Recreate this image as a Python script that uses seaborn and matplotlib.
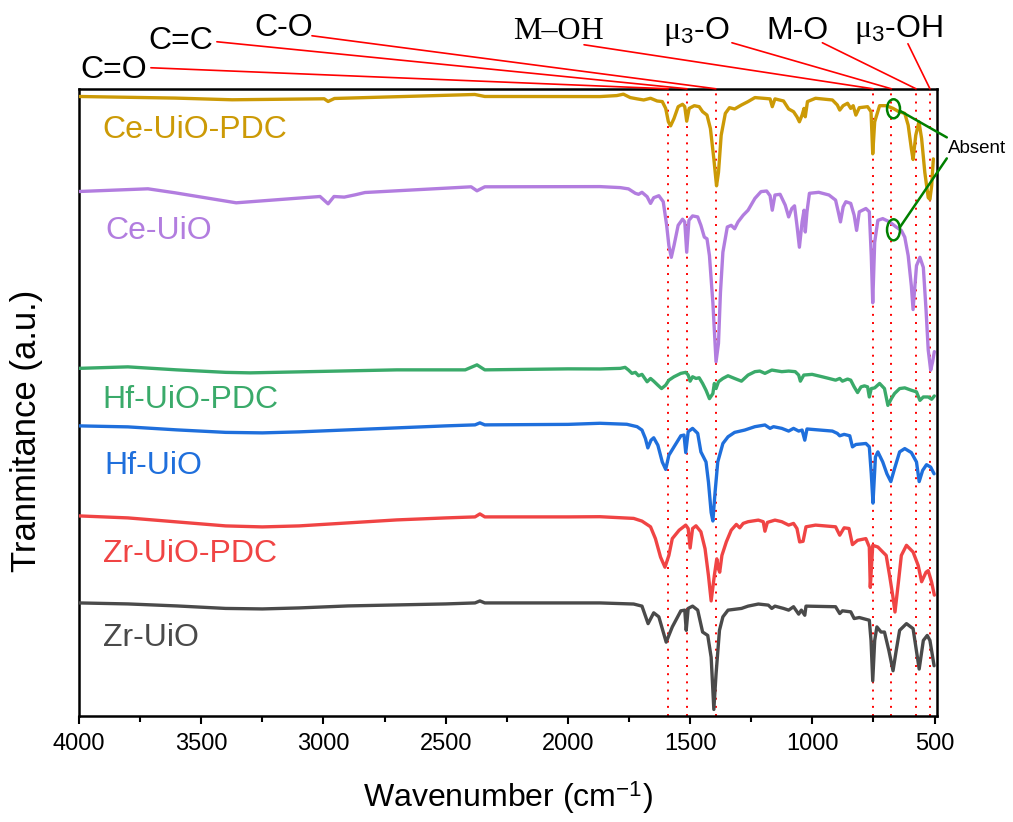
import matplotlib
matplotlib.use("Agg")
import matplotlib.pyplot as plt
from matplotlib.patches import Ellipse
from matplotlib.ticker import MultipleLocator
import pandas as pd
import seaborn as sns

# ---- stacked FTIR spectra: wavenumber (cm-1) and offset transmittance (a.u.) ----
zr_uio_wn = [4000, 3800, 3600, 3400, 3250, 3100, 2900, 2700, 2500, 2380, 2360, 2340, 2000, 1869,
             1731, 1697, 1672, 1649, 1628, 1598, 1573, 1538, 1522, 1516, 1508, 1490, 1469, 1449,
             1428, 1414, 1403, 1394, 1380, 1366, 1345, 1290, 1263, 1221, 1180, 1166, 1153, 1118,
             1097, 1077, 1056, 1045, 1031, 1026, 905, 888, 877, 843, 829, 808, 767, 760, 753, 745,
             736, 719, 705, 687, 670, 657, 643, 615, 588, 563, 546, 530, 519, 502]
zr_uio_t = [113, 112, 110, 107.5, 107, 108, 110, 111, 112, 113, 115, 113, 113, 113,
            111.9, 109.8, 92.3, 103.1, 99.1, 73.8, 89, 105.1, 105.8, 85.6, 107.5, 109.8, 105.8, 83.9,
            80.5, 58.7, 6.5, 41.8, 85.6, 99.1, 105.8, 107.5, 109.8, 111.9, 110.8, 107.5, 109.8, 107.5,
            105.8, 109.2, 101.8, 105.8, 100.7, 109.8, 109.2, 102.4, 105.1, 104.1, 97.4, 98.4, 95.7,
            75.5, 35.1, 75.5, 89, 83.9, 83.9, 65.4, 45.2, 65.4, 85.6, 92.3, 87.3, 46.9, 75.5, 80.5,
            75.5, 50.2]

zr_pdc_wn = [4000, 3800, 3600, 3400, 3250, 3100, 2900, 2700, 2500, 2380, 2360, 2340, 2000, 1869,
             1731, 1697, 1662, 1642, 1621, 1603, 1587, 1573, 1545, 1518, 1508, 1500, 1490, 1476,
             1456, 1439, 1425, 1414, 1401, 1391, 1384, 1379, 1370, 1352, 1332, 1311, 1297, 1283,
             1263, 1221, 1201, 1194, 1184, 1153, 1125, 1097, 1077, 1063, 1052, 1038, 1026, 987,
             905, 888, 870, 850, 836, 815, 781, 767, 763, 753, 732, 712, 698, 684, 670, 662, 648,
             636, 615, 588, 567, 553, 535, 526, 512, 501]
zr_pdc_t = [200, 198, 194, 190, 189, 190, 193, 196, 198, 199, 202, 199, 199, 199.2,
            197.5, 194.8, 189.1, 177.3, 158.8, 148.7, 160.5, 177.3, 185.7, 190.8, 187.4, 167.9,
            187.4, 190.1, 184.1, 167.2, 140.3, 115, 140.3, 157.1, 147, 143.7, 160.5, 174, 185.7,
            191.5, 188.1, 192.5, 194.2, 195.8, 194.2, 184.7, 193.5, 195.8, 194.2, 190.8, 192.5,
            187.4, 174, 174.6, 189.1, 190.8, 189.1, 180.7, 188.1, 187.4, 171.3, 175.6, 177.3,
            168.9, 128.5, 170.6, 168.9, 163.9, 160.5, 140.3, 118.4, 103.9, 133.6, 160.5, 170.6,
            163.9, 150.4, 134.2, 143.7, 145.3, 133.6, 120.8]

hf_uio_wn = [4000, 3800, 3600, 3400, 3250, 3100, 2900, 2700, 2500, 2380, 2360, 2340, 2000, 1869,
             1759, 1717, 1697, 1683, 1673, 1660, 1649, 1632, 1614, 1600, 1587, 1566, 1538, 1525,
             1518, 1508, 1490, 1469, 1456, 1435, 1425, 1414, 1407, 1398, 1387, 1366, 1345, 1318,
             1277, 1235, 1194, 1173, 1159, 1125, 1097, 1077, 1056, 1042, 1031, 1022, 918, 898, 888,
             870, 847, 836, 822, 781, 767, 759, 752, 742, 732, 712, 695, 679, 664, 643, 622, 595,
             574, 563, 549, 533, 516, 502]
hf_uio_t = [290, 289, 286, 283.5, 283, 284, 286, 288, 290, 291, 293, 291, 291.5, 292.6,
            291.6, 289.2, 285.8, 277.4, 268, 275.7, 278.1, 270.7, 253.9, 246.5, 260.6, 269, 280.1,
            280.8, 263.3, 284.2, 287.5, 282.5, 264, 253.9, 233.7, 203.4, 194.9, 223.6, 253.9,
            272.4, 279.1, 283.5, 285.8, 289.2, 290.9, 287.5, 289.2, 287.5, 284.8, 287.5, 284.8,
            285.8, 275.7, 286.9, 284.8, 282.5, 280.1, 281.5, 280.1, 269, 271.4, 272.4, 269, 242.1,
            212.8, 258.9, 264, 253.9, 242.1, 234.3, 247.1, 264, 267.3, 263.3, 253.9, 234.3, 245.4,
            251.2, 248.8, 242.1]

hf_pdc_wn = [4000, 3800, 3600, 3400, 3300, 3100, 2900, 2700, 2420, 2372, 2340, 2000, 1869, 1786,
             1766, 1752, 1738, 1724, 1711, 1697, 1676, 1662, 1649, 1632, 1617, 1600, 1587, 1566,
             1538, 1518, 1508, 1500, 1490, 1476, 1463, 1449, 1435, 1421, 1407, 1401, 1394, 1384,
             1366, 1345, 1318, 1290, 1263, 1235, 1215, 1194, 1166, 1125, 1097, 1070, 1056, 1049,
             1035, 1001, 960, 932, 905, 888, 877, 856, 843, 829, 815, 801, 787, 774, 767, 759, 745,
             725, 705, 691, 677, 664, 643, 622, 595, 574, 560, 546, 526, 512, 501]
hf_pdc_t = [347.5, 349, 346, 343.5, 343, 344, 345, 346, 346, 351, 346, 347, 346.9, 347.5,
            348.5, 345.8, 342.5, 343.5, 340.1, 341.5, 334.1, 337.4, 334.7, 330.7, 327.3, 330.7,
            335.7, 339.1, 342.5, 343.5, 340.8, 334.7, 339.1, 337.4, 338.1, 332.4, 325.6, 317.2,
            322.3, 332.4, 327.3, 334.1, 337.4, 340.1, 337.4, 334.7, 340.8, 344.2, 344.8, 342.5,
            345.8, 344.2, 344.8, 344.2, 340.8, 334.7, 340.8, 341.5, 339.1, 337.4, 335.7, 337.4,
            334.7, 336.8, 335.7, 329, 323.3, 329, 330, 329, 318.9, 327.3, 328, 332.4, 327.3, 310.5,
            317.2, 322.3, 327.3, 328, 325.6, 324, 315.5, 318.9, 318.9, 316.6, 319.9]

ce_uio_wn = [4000, 3718, 3607, 3357, 3014, 2981, 2957, 2915, 2870, 2830, 2396, 2372, 2340, 1869,
             1786, 1752, 1724, 1711, 1697, 1676, 1662, 1649, 1628, 1610, 1596, 1587, 1577, 1566,
             1549, 1531, 1522, 1514, 1505, 1490, 1469, 1456, 1442, 1431, 1421, 1407, 1394, 1384,
             1376, 1366, 1348, 1332, 1318, 1304, 1283, 1263, 1235, 1210, 1187, 1173, 1164, 1153,
             1132, 1111, 1097, 1084, 1073, 1063, 1053, 1042, 1034, 1029, 1022, 1012, 974, 932, 905,
             894, 885, 874, 863, 843, 829, 819, 808, 781, 767, 759, 753, 745, 732, 712, 684, 657,
             636, 622, 608, 595, 588, 574, 560, 546, 535, 526, 516, 508, 501]
ce_uio_t = [524.3, 527, 523, 513, 519.3, 512, 519.3, 518.7, 521, 523.3, 529, 525, 529, 529.2,
            528.2, 526.9, 522.5, 521.5, 523.5, 519.1, 512.4, 518.1, 520.1, 514.1, 490.5, 470.3,
            458.5, 470.3, 490.5, 496.6, 493.9, 463.6, 495.5, 499.9, 498.9, 490.5, 478.7, 477,
            460.2, 413.1, 354.1, 372.6, 423.2, 463.6, 488.8, 490.5, 487.1, 493.9, 500.6, 505.6,
            517.4, 524.2, 524.8, 520.1, 505.6, 520.8, 521.5, 510.7, 498.9, 507.3, 510, 490.5,
            468.6, 493.9, 505.6, 483.8, 504, 522.5, 523.5, 520.8, 515.7, 504, 493.9, 509, 514.1,
            512.4, 500.6, 485.4, 504, 507.3, 504, 460.2, 413.1, 473.7, 495.5, 497.2, 493.9, 488.8,
            485.4, 478.7, 460.2, 429.9, 406.3, 450.1, 458.5, 448.4, 406.3, 365.9, 345.7, 354.1,
            364.2]

ce_pdc_wn = [4000, 3607, 3374, 2997, 2981, 2955, 2381, 2340, 1869, 1800, 1773, 1745, 1717, 1690,
             1662, 1635, 1614, 1600, 1589, 1580, 1566, 1549, 1531, 1522, 1514, 1504, 1483, 1463,
             1449, 1431, 1417, 1403, 1392, 1384, 1373, 1356, 1339, 1318, 1290, 1263, 1235, 1201,
             1173, 1164, 1153, 1118, 1097, 1077, 1063, 1053, 1042, 1034, 1029, 1020, 987, 918, 898,
             888, 874, 856, 843, 833, 822, 808, 774, 760, 753, 745, 725, 698, 670, 646, 622, 608,
             595, 588, 577, 564, 553, 540, 526, 519, 512, 505]
ce_pdc_t = [619.3, 617.7, 616, 617, 614.3, 617.3, 621.3, 619.3, 619.2, 620.2, 621.6, 618.2, 616.9,
            615.8, 617.5, 614.8, 614.2, 607.4, 594, 589.9, 597.3, 609.1, 611.5, 609.1, 594.6,
            607.4, 610.1, 609.1, 604.1, 600.7, 587.2, 556.9, 530, 543.5, 580.5, 602.4, 608.1,
            606.8, 610.8, 614.2, 618.2, 617.5, 616.9, 609.1, 616.9, 614.8, 606.8, 604.1, 599, 594,
            600.7, 607.4, 599, 614.2, 617.5, 615.8, 610.8, 605.7, 610.1, 612.5, 607.4, 610.1,
            600.7, 608.1, 609.1, 604.1, 562, 594, 610.1, 610.1, 607.4, 604.1, 602.4, 590.6, 567,
            556.3, 580.5, 594, 577.1, 543.5, 518.2, 516.5, 530, 556.9]

samples = ["Zr-UiO", "Zr-UiO-PDC", "Hf-UiO", "Hf-UiO-PDC", "Ce-UiO", "Ce-UiO-PDC"]
sample_wn = [zr_uio_wn, zr_pdc_wn, hf_uio_wn, hf_pdc_wn, ce_uio_wn, ce_pdc_wn]
sample_t = [zr_uio_t, zr_pdc_t, hf_uio_t, hf_pdc_t, ce_uio_t, ce_pdc_t]
sample_colors = ["#4a4a4a", "#f04444", "#1f6fdc", "#3aaa6a", "#b27ddf", "#cc9a06"]

# band assignments marked by dotted guides
band_wn = [1590, 1513, 1395, 752, 677, 576, 519]
band_labels = ["C=O", "C=C", "C-O", "M\u2013OH",
               r"$\mathrm{\mu}_{\mathsf{3}}$-O", "M-O", r"$\mathrm{\mu}_{\mathsf{3}}$-OH"]

# ---- style ----
sns.set_style("ticks")
plt.rcParams["font.family"] = ["Liberation Sans", "DejaVu Sans"]
plt.rcParams["mathtext.fontset"] = "custom"
plt.rcParams["mathtext.rm"] = "Liberation Serif"
plt.rcParams["mathtext.it"] = "Liberation Serif:italic"
plt.rcParams["mathtext.sf"] = "Liberation Sans"
plt.rcParams["text.color"] = "black"
plt.rcParams["axes.labelcolor"] = "black"
plt.rcParams["xtick.color"] = "black"
plt.rcParams["ytick.color"] = "black"

frames = []
for name, wn, t in zip(samples, sample_wn, sample_t):
    frames.append(pd.DataFrame({"wavenumber": wn, "transmittance": t, "sample": name}))
df = pd.concat(frames, ignore_index=True)

fig = plt.figure(figsize=(10.13, 8.22), dpi=100)
ax = fig.add_axes([0.078, 0.129, 0.847, 0.763])

sns.lineplot(data=df, x="wavenumber", y="transmittance", hue="sample",
             hue_order=samples, palette=dict(zip(samples, sample_colors)),
             estimator=None, sort=False, legend=False, linewidth=2.4, ax=ax, zorder=3)

ax.set_xlim(4000, 490)
ax.set_ylim(0, 627)

# dotted band guides
for w in band_wn:
    ax.plot([w, w], [0, 627], color="red", linestyle=(0, (1, 3.2)), linewidth=1.4, zorder=2)

# band labels above the frame with leader lines
label_pos = [(3857, 638), (3583, 667), (3164, 680), (2039, 677), (1474, 677), (1059, 677), (650, 679)]
leader_start = [(3706, 648), (3436, 674), (3047, 680), (1934, 671), (1329, 673), (959, 673), (609, 672)]
for lab, w, (tx, ty), (sx, sy) in zip(band_labels, band_wn, label_pos, leader_start):
    fam = ["Liberation Serif"] if lab.startswith("M\u2013") else ["Liberation Sans", "DejaVu Sans"]
    ax.text(tx, ty, lab, ha="center", va="baseline", fontsize=23, family=fam, clip_on=False)
    ax.plot([sx, w], [sy, 627], color="red", linewidth=1.2, clip_on=False, zorder=4)

# sample names
name_pos = [(3903, 70), (3903, 154), (3897, 242), (3903, 308), (3894, 477), (3903, 578)]
for name, color, (x, y) in zip(samples, sample_colors, name_pos):
    ax.text(x, y, name, color=color, fontsize=23, ha="left", va="baseline")

# missing mu3-OH band on the Ce samples
for cy, h in [(607, 19), (486, 21)]:
    ax.add_patch(Ellipse((668, cy), width=53, height=h, fill=False,
                         edgecolor="green", linewidth=1.8, zorder=5, clip_on=False))
ax.plot([642, 450], [605, 578.4], color="green", linewidth=1.8, clip_on=False, zorder=5)
ax.plot([642, 450], [488.5, 557.4], color="green", linewidth=1.8, clip_on=False, zorder=5)
ax.text(447, 567, "Absent", fontsize=13.5, ha="left", va="center")

# axes styling
ax.xaxis.set_major_locator(MultipleLocator(500))
ax.xaxis.set_minor_locator(MultipleLocator(250))
ax.set_yticks([])
ax.tick_params(axis="x", which="major", direction="out", length=6, width=1.5,
               labelsize=17, pad=6)
ax.tick_params(axis="x", which="minor", direction="out", length=4, width=1.5)
for s in ax.spines.values():
    s.set_linewidth(1.8)
    s.set_color("black")

ax.set_xlabel(r"Wavenumber (cm$^{\mathsf{-1}}$)", fontsize=23)
ax.set_ylabel("Tranmitance (a.u.)", fontsize=25)
ax.xaxis.set_label_coords(0.5, -0.1)
ax.yaxis.set_label_coords(-0.042, 0.455)

fig.savefig("out.png", dpi=100)
